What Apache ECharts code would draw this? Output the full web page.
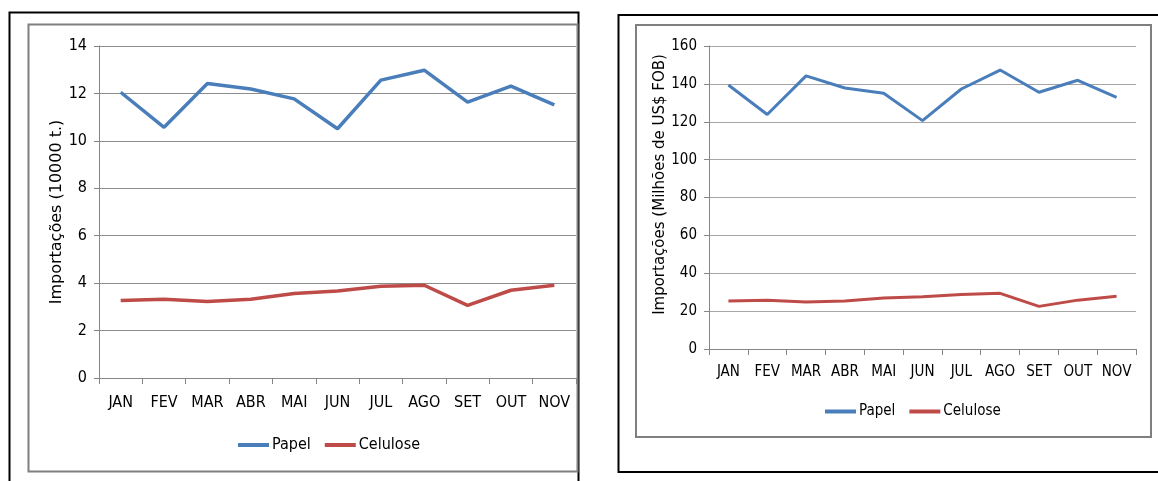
<!DOCTYPE html>
<html>
<head>
<meta charset="utf-8">
<script src="https://cdn.jsdelivr.net/npm/echarts@6/dist/echarts.min.js"></script>
<style>
  html, body { margin: 0; padding: 0; background: #fff; }
  #chart { width: 1158px; height: 481px; }
</style>
</head>
<body>
<div id="chart"></div>
<script>
const months = ['JAN', 'FEV', 'MAR', 'ABR', 'MAI', 'JUN', 'JUL', 'AGO', 'SET', 'OUT', 'NOV'];

// volume (10000 t.)
const papelVolume = [12.05, 10.57, 12.42, 12.19, 11.77, 10.51, 12.56, 12.98, 11.63, 12.31, 11.52];
const celuloseVolume = [3.27, 3.32, 3.23, 3.32, 3.56, 3.67, 3.87, 3.91, 3.06, 3.70, 3.91];

// value (Milhões de US$ FOB)
const papelValor = [139.4, 123.8, 144.2, 137.8, 135.0, 120.6, 137.3, 147.3, 135.6, 141.9, 132.9];
const celuloseValor = [25.3, 25.8, 24.8, 25.3, 26.9, 27.6, 28.8, 29.4, 22.5, 25.8, 27.8];

const BLUE = '#4a7ebb';
const RED = '#be4b48';
const tickFont = '"DejaVu Sans", sans-serif';
const titleFont = '"DejaVu Sans", Verdana, sans-serif';
// condensed face, like the narrow labels in the original
const tickStyle = 'condensed';

const chart = echarts.init(document.getElementById('chart'));

function xAxisFor(gridIndex, fontSize, margin) {
  return {
    type: 'category',
    gridIndex: gridIndex,
    data: months,
    boundaryGap: true,
    axisLine: { lineStyle: { color: '#868686', width: 1 } },
    axisTick: { show: true, length: 6, lineStyle: { color: '#868686' } },
    axisLabel: { color: '#000', interval: 0, fontSize: fontSize, fontStyle: tickStyle, fontFamily: tickFont, margin: margin }
  };
}

function yAxisFor(gridIndex, max, interval, name, nameGap, nameSize, namePad, gridColor, fontSize) {
  return {
    type: 'value',
    gridIndex: gridIndex,
    min: 0,
    max: max,
    interval: interval,
    name: name,
    nameLocation: 'middle',
    nameGap: nameGap,
    nameRotate: 90,
    nameTextStyle: { color: '#000', fontSize: nameSize, fontFamily: titleFont, padding: namePad },
    axisLine: { show: true, lineStyle: { color: '#868686', width: 1 } },
    axisTick: { show: true, length: 5, lineStyle: { color: '#868686' } },
    axisLabel: { color: '#000', fontSize: fontSize, fontStyle: tickStyle, fontFamily: tickFont, margin: 12 },
    splitLine: { show: true, lineStyle: { color: gridColor, width: 1 } }
  };
}

function lineSeries(name, data, color, axisIndex, width) {
  return {
    name: name,
    type: 'line',
    xAxisIndex: axisIndex,
    yAxisIndex: axisIndex,
    data: data,
    symbol: 'none',
    lineStyle: { color: color, width: width },
    itemStyle: { color: color },
    animation: false
  };
}

function legendFor(left, top, fontSize) {
  return {
    left: left,
    top: top,
    data: ['Papel', 'Celulose'],
    icon: 'rect',
    itemWidth: 31,
    itemHeight: 4,
    itemGap: 14,
    textStyle: { color: '#000', fontSize: fontSize, fontStyle: tickStyle, fontFamily: tickFont, padding: [0, 0, 0, -2] },
    selectedMode: false
  };
}

const options = {
  backgroundColor: '#fff',
  animation: false,
  grid: [
    { left: 99, top: 46, width: 477, height: 332 },
    { left: 709, top: 46, width: 427, height: 303 }
  ],
  xAxis: [xAxisFor(0, 16, 17), xAxisFor(1, 15, 16)],
  yAxis: [
    yAxisFor(0, 14, 2, 'Importações (10000 t.)', 32, 16, 0, '#8c8c8c', 16),
    yAxisFor(1, 160, 20, 'Importações (Milhões de US$ FOB)', 35, 15, [0, 0, 0, 26], '#a6a6a6', 15)
  ],
  legend: [legendFor(233, 432, 16), legendFor(820, 399, 15)],
  series: [
    lineSeries('Papel', papelVolume, BLUE, 0, 3.5),
    lineSeries('Celulose', celuloseVolume, RED, 0, 3.5),
    lineSeries('Papel', papelValor, BLUE, 1, 3),
    lineSeries('Celulose', celuloseValor, RED, 1, 3)
  ],
  graphic: [
    // left chart frames
    { type: 'rect', shape: { x: 9.5, y: 12.5, width: 569, height: 490 }, style: { fill: 'none', stroke: '#000', lineWidth: 2 }, silent: true },
    { type: 'rect', shape: { x: 28.5, y: 24.5, width: 549, height: 447 }, style: { fill: 'none', stroke: '#7f7f7f', lineWidth: 2 }, silent: true },
    // right chart frames
    { type: 'rect', shape: { x: 618.5, y: 15, width: 580, height: 457 }, style: { fill: 'none', stroke: '#000', lineWidth: 2 }, silent: true },
    { type: 'rect', shape: { x: 636, y: 25, width: 515, height: 412 }, style: { fill: 'none', stroke: '#7f7f7f', lineWidth: 2 }, silent: true }
  ]
};

chart.setOption(options);
</script>
</body>
</html>
